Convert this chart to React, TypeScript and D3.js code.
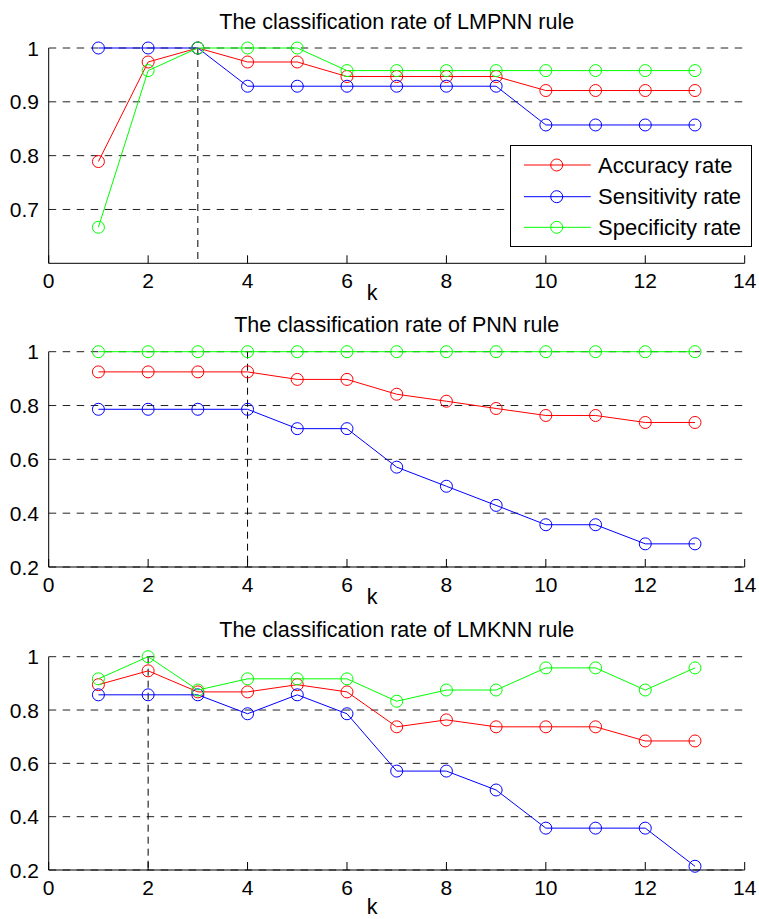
import { useEffect, useRef } from 'react';
import * as d3 from 'd3';

// k values on the x axis
const kValues = [1, 2, 3, 4, 5, 6, 7, 8, 9, 10, 11, 12, 13];
const xTicks = [0, 2, 4, 6, 8, 10, 12, 14];

const seriesNames = ['Accuracy rate', 'Sensitivity rate', 'Specificity rate'];
const seriesColors = ['#ff0000', '#0000ff', '#00ff00'];

// LMPNN
const lmpnnAccuracy = [0.789, 0.974, 1, 0.974, 0.974, 0.947, 0.947, 0.947, 0.947, 0.921, 0.921, 0.921, 0.921];
const lmpnnSensitivity = [1, 1, 1, 0.929, 0.929, 0.929, 0.929, 0.929, 0.929, 0.857, 0.857, 0.857, 0.857];
const lmpnnSpecificity = [0.667, 0.958, 1, 1, 1, 0.958, 0.958, 0.958, 0.958, 0.958, 0.958, 0.958, 0.958];
const lmpnnTicks = [0.7, 0.8, 0.9, 1];

// PNN
const pnnAccuracy = [0.925, 0.925, 0.925, 0.925, 0.897, 0.897, 0.842, 0.816, 0.789, 0.763, 0.763, 0.737, 0.737];
const pnnSensitivity = [0.786, 0.786, 0.786, 0.786, 0.714, 0.714, 0.571, 0.5, 0.429, 0.357, 0.357, 0.286, 0.286];
const pnnSpecificity = [1, 1, 1, 1, 1, 1, 1, 1, 1, 1, 1, 1, 1];
const pnnTicks = [0.2, 0.4, 0.6, 0.8, 1];

// LMKNN
const lmknnAccuracy = [0.895, 0.947, 0.868, 0.868, 0.895, 0.868, 0.737, 0.763, 0.737, 0.737, 0.737, 0.684, 0.684];
const lmknnSensitivity = [0.857, 0.857, 0.857, 0.786, 0.857, 0.786, 0.571, 0.571, 0.5, 0.357, 0.357, 0.357, 0.214];
const lmknnSpecificity = [0.917, 1, 0.875, 0.917, 0.917, 0.917, 0.833, 0.875, 0.875, 0.958, 0.958, 0.875, 0.958];
const lmknnTicks = [0.2, 0.4, 0.6, 0.8, 1];

const panels = [
  { title: 'The classification rate of LMPNN rule', yDomain: [0.6, 1], yTicks: lmpnnTicks, bestK: 3,
    series: [lmpnnAccuracy, lmpnnSensitivity, lmpnnSpecificity], legend: true },
  { title: 'The classification rate of PNN rule', yDomain: [0.2, 1], yTicks: pnnTicks, bestK: 4,
    series: [pnnAccuracy, pnnSensitivity, pnnSpecificity], legend: false },
  { title: 'The classification rate of LMKNN rule', yDomain: [0.2, 1], yTicks: lmknnTicks, bestK: 2,
    series: [lmknnAccuracy, lmknnSensitivity, lmknnSpecificity], legend: false },
];

// pixel boxes of each subplot
const layout = [
  { top: 48, bottom: 263.3, kDy: 37 },
  { top: 351.7, bottom: 567, kDy: 36.5 },
  { top: 656.7, bottom: 870, kDy: 44 },
];

const FONT = '"Liberation Sans", Arial, sans-serif';

export default function App() {
  const svgRef = useRef<SVGSVGElement>(null);

  useEffect(() => {
    const svg = d3.select(svgRef.current);
    svg.selectAll('*').remove();

    const x = d3.scaleLinear().domain([0, 14]).range([48.7, 744.7]);

    panels.forEach((p, pi) => {
      const box = layout[pi];
      const y = d3.scaleLinear().domain(p.yDomain).range([box.bottom, box.top]);
      const g = svg.append('g');

      // dashed grid lines
      g.selectAll('line.grid')
        .data(p.yTicks)
        .enter()
        .append('line')
        .attr('x1', x(0))
        .attr('x2', x(14))
        .attr('y1', d => y(d))
        .attr('y2', d => y(d))
        .attr('stroke', '#222')
        .attr('stroke-width', 1)
        .attr('stroke-dasharray', '7.5,6.5');

      // vertical marker at best k
      g.append('line')
        .attr('x1', x(p.bestK))
        .attr('x2', x(p.bestK))
        .attr('y1', y(1))
        .attr('y2', y(p.yDomain[0]))
        .attr('stroke', '#000')
        .attr('stroke-width', 1)
        .attr('stroke-dasharray', '7,5');

      // axes
      g.append('line')
        .attr('x1', x(0)).attr('x2', x(0))
        .attr('y1', y(p.yDomain[1])).attr('y2', y(p.yDomain[0]))
        .attr('stroke', '#000');
      g.append('line')
        .attr('x1', x(0)).attr('x2', x(14))
        .attr('y1', y(p.yDomain[0])).attr('y2', y(p.yDomain[0]))
        .attr('stroke', '#000');

      // x ticks (inside)
      g.selectAll('line.xt')
        .data(xTicks)
        .enter()
        .append('line')
        .attr('x1', d => x(d)).attr('x2', d => x(d))
        .attr('y1', y(p.yDomain[0])).attr('y2', y(p.yDomain[0]) - 8)
        .attr('stroke', '#000');

      g.selectAll('text.xt')
        .data(xTicks)
        .enter()
        .append('text')
        .attr('x', d => x(d))
        .attr('y', y(p.yDomain[0]) + 25)
        .attr('text-anchor', 'middle')
        .style('font-family', FONT)
        .style('font-size', '21px')
        .text(d => d);

      // y tick labels
      g.selectAll('text.yt')
        .data(p.yTicks)
        .enter()
        .append('text')
        .attr('x', 39)
        .attr('y', d => y(d))
        .attr('dy', '0.36em')
        .attr('text-anchor', 'end')
        .style('font-family', FONT)
        .style('font-size', '21px')
        .text(d => (d === 1 ? '1' : String(d)));

      // title and k label
      g.append('text')
        .attr('x', (x(0) + x(14)) / 2)
        .attr('y', box.top - 19.5)
        .attr('text-anchor', 'middle')
        .style('font-family', FONT)
        .style('font-size', '21.5px')
        .text(p.title);

      g.append('text')
        .attr('x', 372)
        .attr('y', box.bottom + box.kDy)
        .attr('text-anchor', 'middle')
        .style('font-family', FONT)
        .style('font-size', '21.5px')
        .text('k');

      // series
      const line = d3.line<number>()
        .x((d, i) => x(kValues[i]))
        .y(d => y(d));

      p.series.forEach((vals, si) => {
        const sg = g.append('g');
        sg.append('path')
          .attr('d', line(vals))
          .attr('fill', 'none')
          .attr('stroke', seriesColors[si])
          .attr('stroke-width', 1);
        sg.selectAll('circle')
          .data(vals)
          .enter()
          .append('circle')
          .attr('cx', (d, i) => x(kValues[i]))
          .attr('cy', d => y(d))
          .attr('r', 6)
          .attr('fill', 'none')
          .attr('stroke', seriesColors[si])
          .attr('stroke-width', 1);
      });

      // legend
      if (p.legend) {
        const lg = g.append('g');
        lg.append('rect')
          .attr('x', 510.5).attr('y', 145.5)
          .attr('width', 241).attr('height', 101)
          .attr('fill', '#fff')
          .attr('stroke', '#000');
        const rows = [165, 196.7, 227.3];
        seriesNames.forEach((name, si) => {
          lg.append('line')
            .attr('x1', 524).attr('x2', 590.7)
            .attr('y1', rows[si]).attr('y2', rows[si])
            .attr('stroke', seriesColors[si]);
          lg.append('circle')
            .attr('cx', 556.7).attr('cy', rows[si])
            .attr('r', 6)
            .attr('fill', 'none')
            .attr('stroke', seriesColors[si]);
          lg.append('text')
            .attr('x', 598)
            .attr('y', rows[si] + 7.5)
            .style('font-family', FONT)
            .style('font-size', '22px')
            .text(name);
        });
      }
    });
  }, []);

  return (
    <svg
      ref={svgRef}
      width={759}
      height={919}
      style={{ position: 'absolute', left: 0, top: 0, background: '#fff' }}
    />
  );
}
